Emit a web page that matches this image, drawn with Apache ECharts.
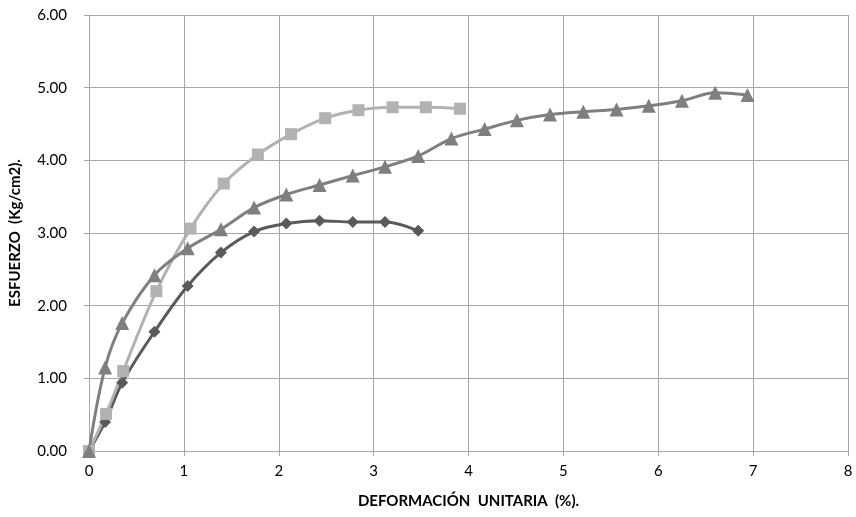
<!DOCTYPE html>
<html>
<head>
<meta charset="utf-8">
<script src="https://cdn.jsdelivr.net/npm/echarts@6/dist/echarts.min.js"></script>
<style>
  html, body { margin: 0; padding: 0; background: #fff; }
  #chart { width: 856px; height: 517px; }
</style>
</head>
<body>
<div id="chart"></div>
<script>
// Strain (%) and stress (kg/cm2) for three test specimens
const strainDiamond = [0, 0.17, 0.35, 0.69, 1.04, 1.39, 1.74, 2.08, 2.43, 2.78, 3.12, 3.47];
const stressDiamond = [0, 0.40, 0.94, 1.64, 2.27, 2.73, 3.02, 3.13, 3.17, 3.15, 3.15, 3.03];

const strainSquare = [0, 0.18, 0.36, 0.71, 1.07, 1.42, 1.78, 2.13, 2.49, 2.84, 3.20, 3.55, 3.91];
const stressSquare = [0, 0.51, 1.10, 2.20, 3.06, 3.68, 4.08, 4.36, 4.58, 4.69, 4.73, 4.73, 4.71];

const strainTriangle = [0, 0.17, 0.35, 0.69, 1.04, 1.39, 1.74, 2.08, 2.43, 2.78, 3.12, 3.47, 3.82, 4.17, 4.51, 4.86, 5.21, 5.56, 5.90, 6.25, 6.60, 6.94];
const stressTriangle = [0, 1.15, 1.76, 2.42, 2.79, 3.05, 3.35, 3.53, 3.66, 3.79, 3.91, 4.06, 4.30, 4.43, 4.55, 4.63, 4.67, 4.70, 4.75, 4.82, 4.93, 4.90];

const xTitle = 'DEFORMACIÓN  UNITARIA  (%).';
const yTitle = 'ESFUERZO  (Kg/cm2).';

const pair = (xs, ys) => xs.map((x, i) => [x, ys[i]]);

const font = 'Lato, "Open Sans", sans-serif';
const gridColor = '#a6a6a6';

function series(xs, ys, symbol, size, color) {
  return {
    type: 'line',
    data: pair(xs, ys),
    smooth: 0.35,
    symbol: symbol,
    symbolSize: size,
    showSymbol: true,
    lineStyle: { color: color, width: 3 },
    itemStyle: { color: color, borderWidth: 0 },
    emphasis: { disabled: true },
    animation: false
  };
}

const chart = echarts.init(document.getElementById('chart'), null, { renderer: 'canvas' });
chart.setOption({
  backgroundColor: '#ffffff',
  animation: false,
  grid: { left: 88, right: 8, top: 15, bottom: 66, containLabel: false },
  xAxis: {
    type: 'value', min: 0, max: 8, interval: 1,
    name: xTitle, nameLocation: 'middle', nameGap: 43,
    nameTextStyle: { fontFamily: font, fontWeight: 'bold', fontSize: 15, color: '#000' },
    axisLine: { show: true, lineStyle: { color: gridColor, width: 1 } },
    axisTick: { show: true, length: 5, lineStyle: { color: gridColor } },
    axisLabel: { fontFamily: font, fontSize: 15, color: '#000', margin: 13 },
    splitLine: { show: true, lineStyle: { color: gridColor, width: 1 } }
  },
  yAxis: {
    type: 'value', min: 0, max: 6, interval: 1,
    name: yTitle, nameLocation: 'middle', nameGap: 66, nameRotate: 90,
    nameTextStyle: { fontFamily: font, fontWeight: 'bold', fontSize: 15, color: '#000' },
    axisLine: { show: true, lineStyle: { color: gridColor, width: 1 } },
    axisTick: { show: true, length: 5, lineStyle: { color: gridColor } },
    axisLabel: { fontFamily: font, fontSize: 15, color: '#000', margin: 22,
      formatter: v => v.toFixed(2) },
    splitLine: { show: true, lineStyle: { color: gridColor, width: 1 } }
  },
  series: [
    series(strainDiamond, stressDiamond, 'diamond', 12, '#5a5a5a'),
    series(strainSquare, stressSquare, 'rect', 12, '#b2b2b2'),
    series(strainTriangle, stressTriangle, 'triangle', 14, '#7f7f7f')
  ]
});
</script>
</body>
</html>
